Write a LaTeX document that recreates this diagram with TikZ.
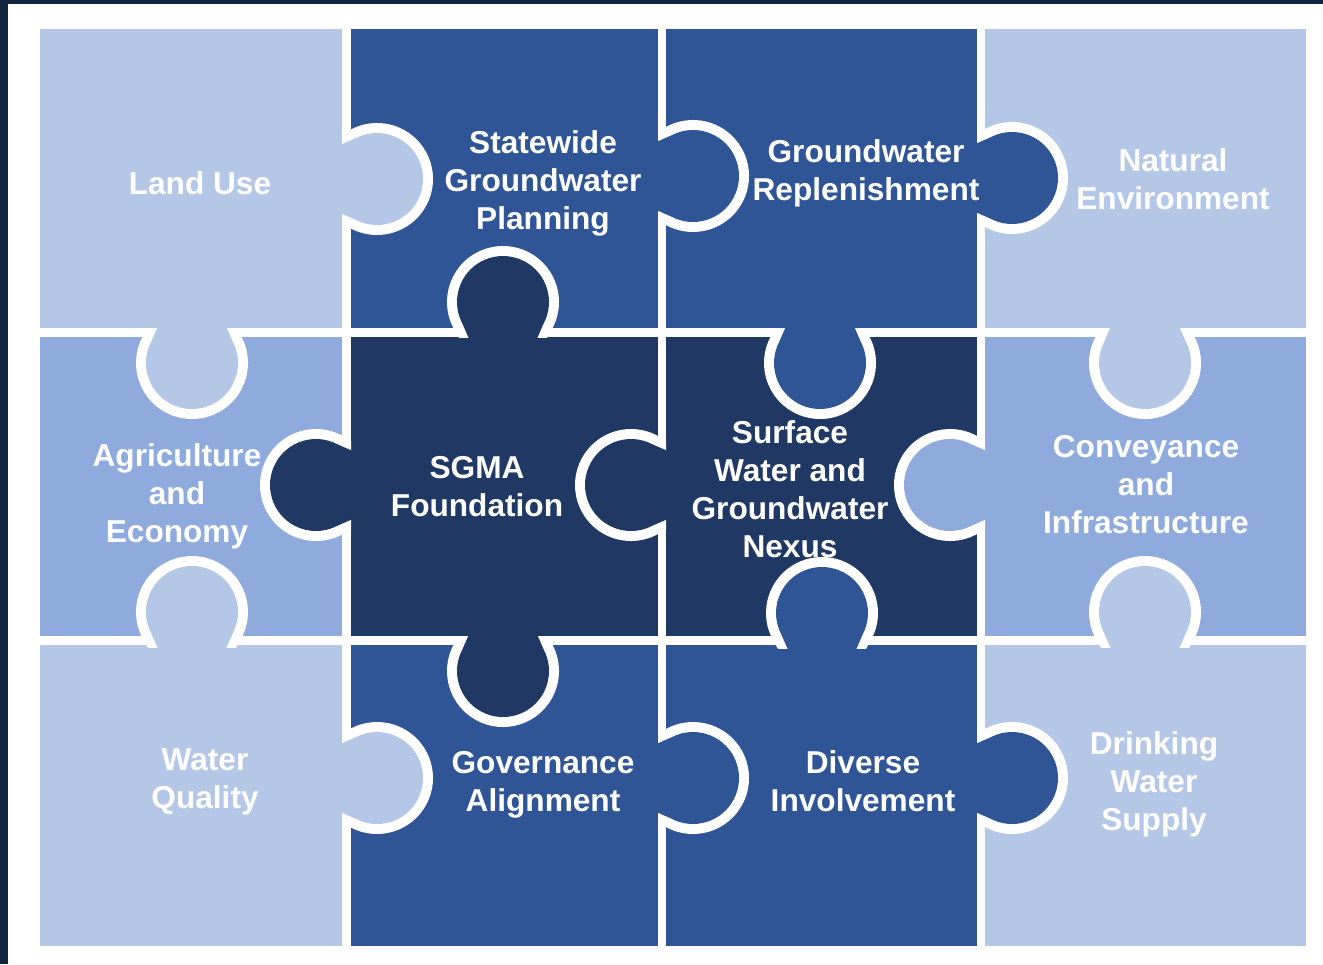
\documentclass[tikz,border=0pt]{standalone}
\usepackage{fontspec}
\setmainfont{Liberation Sans}
\usepackage{tikz}
\definecolor{pale}{HTML}{B4C7E7}
\definecolor{mid}{HTML}{8FAADC}
\definecolor{deep}{HTML}{2F5597}
\definecolor{navy}{HTML}{203864}
\definecolor{frame}{HTML}{10233F}
\tikzset{
	knobring/.style={draw=white, line width=2mm},
	label/.style={text=white, align=center, font=\bfseries\fontsize{9}{10.8}\selectfont}
}
\def\knob[#1](#2)(#3){%
	\begin{scope}[shift={(#2)}, rotate=#3]
		\begin{scope}
			\clip (0,-1) rectangle (1,1);
			\draw[knobring] (0,-0.33) -- (0.134,-0.406) arc (-118:118:0.46) -- (0,0.33);
		\end{scope}
		\fill[#1] (-0.04,-0.33) -- (0.134,-0.406) arc (-118:118:0.46) -- (-0.04,0.33) -- cycle;
	\end{scope}}

\begin{document}
\begin{tikzpicture}
		%%%%% START %%%%%
		\useasboundingbox (0,0) rectangle (13.23,-9.64);
		
		\fill[frame] (0,0) rectangle (13.23,-0.04);
		\fill[frame] (0,0) rectangle (0.08,-9.64);
		
		% top row
		\fill[pale] (0.40,-0.29) rectangle (3.42,-3.28);
		\fill[deep] (3.51,-0.29) rectangle (6.58,-3.28);
		\fill[deep] (6.66,-0.29) rectangle (9.77,-3.28);
		\fill[pale] (9.85,-0.29) rectangle (13.06,-3.28);
		
		% middle row
		\fill[mid] (0.40,-3.37) rectangle (3.42,-6.36);
		\fill[navy] (3.51,-3.37) rectangle (6.58,-6.36);
		\fill[navy] (6.66,-3.37) rectangle (9.77,-6.36);
		\fill[mid] (9.85,-3.37) rectangle (13.06,-6.36);
		
		% bottom row
		\fill[pale] (0.40,-6.45) rectangle (3.42,-9.46);
		\fill[deep] (3.51,-6.45) rectangle (6.58,-9.46);
		\fill[deep] (6.66,-6.45) rectangle (9.77,-9.46);
		\fill[pale] (9.85,-6.45) rectangle (13.06,-9.46);
		
		% knobs
		\knob[pale](3.42,-1.79)(0);
		\knob[deep](6.58,-1.76)(0);
		\knob[deep](9.77,-1.78)(0);
		\knob[pale](1.92,-3.28)(-90);
		\knob[navy](5.03,-3.37)(90);
		\knob[deep](8.20,-3.28)(-90);
		\knob[pale](11.45,-3.28)(-90);
		\knob[navy](3.51,-4.85)(180);
		\knob[navy](6.66,-4.85)(180);
		\knob[mid](9.85,-4.85)(180);
		\knob[pale](1.92,-6.47)(90);
		\knob[navy](5.03,-6.36)(-90);
		\knob[deep](8.22,-6.48)(90);
		\knob[pale](11.45,-6.47)(90);
		\knob[pale](3.42,-7.78)(0);
		\knob[deep](6.58,-7.78)(0);
		\knob[deep](9.77,-7.78)(0);
		
		% labels
		\node[label] (landuse) at (2.00,-1.83) {Land Use};
		\node[label] (statewide) at (5.43,-1.835) {Statewide\\Groundwater\\Planning};
		\node[label] (replenish) at (8.66,-1.73) {Groundwater\\Replenishment};
		\node[label] (natural) at (11.73,-1.79) {Natural\\Environment};
		
		\node[label] (agri) at (1.77,-4.96) {Agriculture\\and\\Economy};
		\node[label] (sgma) at (4.77,-4.87) {SGMA\\Foundation};
		\node[label] (nexus) at (7.90,-4.89) {Surface\\Water and\\Groundwater\\Nexus};
		\node[label] (convey) at (11.46,-4.85) {Conveyance\\and\\Infrastructure};
		
		\node[label] (quality) at (2.05,-7.815) {Water\\Quality};
		\node[label] (govern) at (5.43,-7.85) {Governance\\Alignment};
		\node[label] (diverse) at (8.63,-7.815) {Diverse\\Involvement};
		\node[label] (drinking) at (11.54,-7.845) {Drinking\\Water\\Supply};
		
		%%%%% END %%%%%
	\end{tikzpicture}
\end{document}
